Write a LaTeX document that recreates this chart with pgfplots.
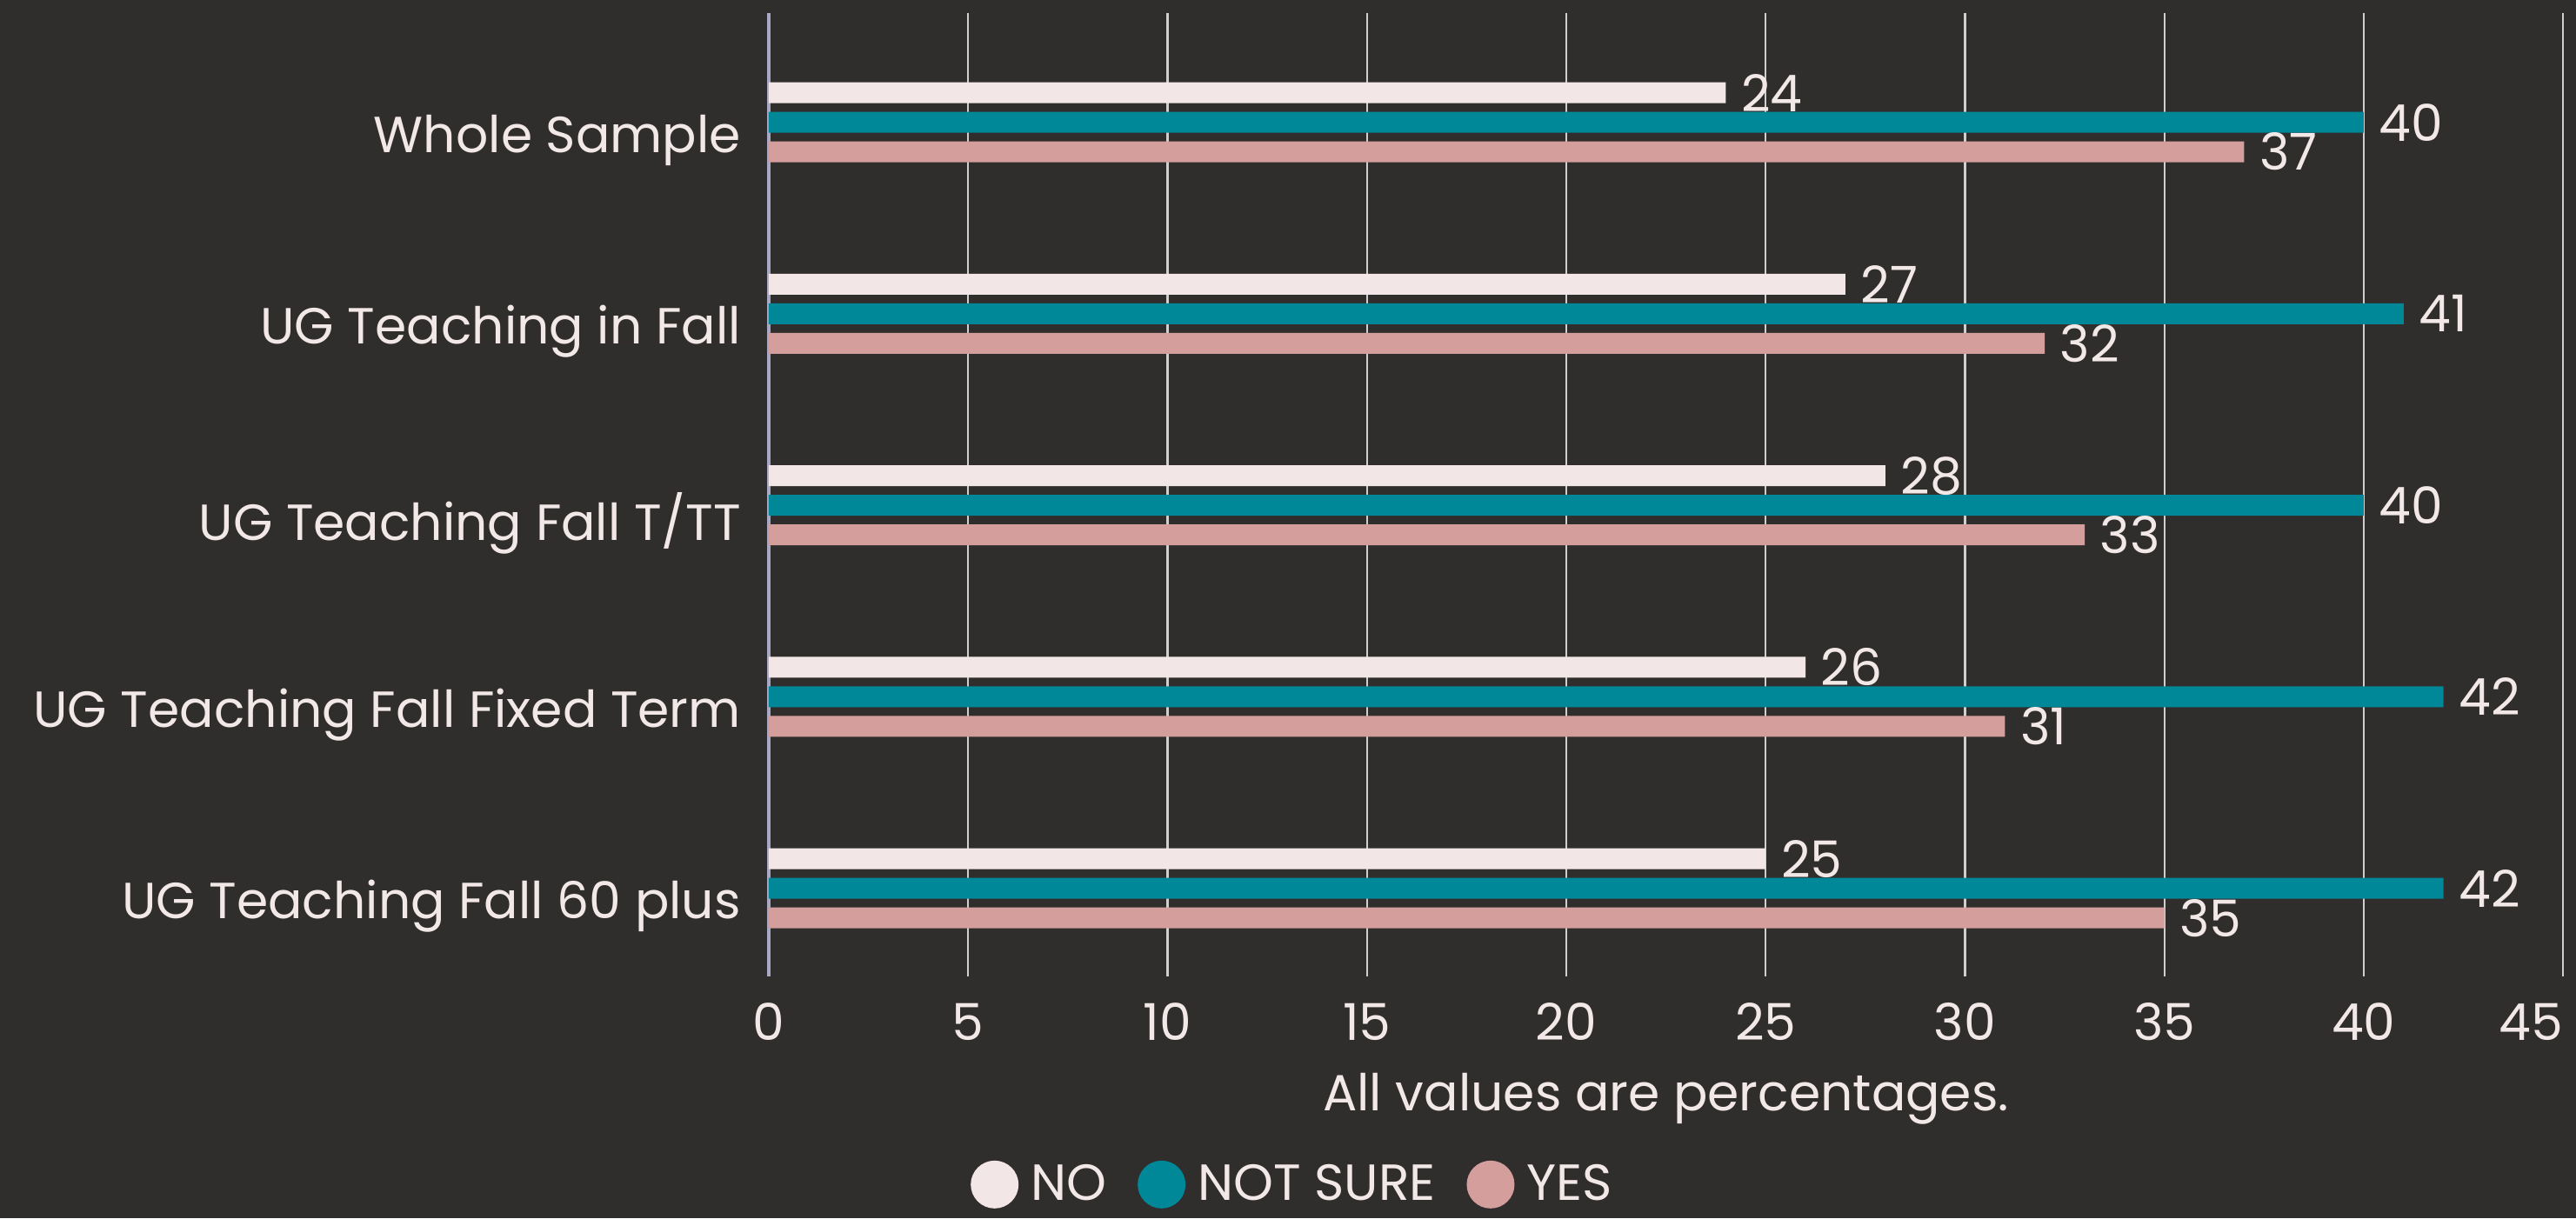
\documentclass[border=0pt]{standalone}
\usepackage{fontspec}
\setmainfont{Poppins}
\usepackage{pgfplots}
\pgfplotsset{compat=1.18}
\definecolor{bg}{HTML}{302E2C}
\definecolor{cno}{HTML}{F2E6E6}
\definecolor{cns}{HTML}{008798}
\definecolor{cyes}{HTML}{D49E9C}
\definecolor{txt}{HTML}{F2E8E8}
\definecolor{gridc}{HTML}{CFCFCF}
\definecolor{yaxc}{HTML}{A6A8C4}
\newcommand{\ff}{\fontsize{14.6}{17}\selectfont}
\begin{document}
\begin{tikzpicture}
\fill[bg] (-221pt,-69.5pt) rectangle (519.5pt,280.75pt);
\begin{axis}[
  scale only axis,
  width=515.8pt, height=277pt,
  xmin=0, xmax=45,
  ymin=-0.57, ymax=4.46,
  y dir=reverse,
  xbar=2.5pt, bar width=6pt,
  axis x line*=bottom,
  x axis line style={draw=none},
  axis y line*=left,
  y axis line style={yaxc, line width=0.8pt, -},
  xmajorgrids,
  grid style={gridc, line width=0.6pt},
  major tick length=0pt,
  xtick={0,5,10,15,20,25,30,35,40,45},
  xticklabels={0,5,10,15,20,25,30,35,40,{\makebox[0pt][r]{45}}},
  ytick={0,1,2,3,4},
  yticklabels={Whole Sample,UG Teaching in Fall,UG Teaching Fall T/TT,UG Teaching Fall Fixed Term,UG Teaching Fall 60 plus},
  /pgf/number format/assume math mode=true,
  tick label style={font=\ff, text=txt},
  xticklabel style={yshift=-4.2pt},
  yticklabel style={xshift=-4.5pt, yshift=-5.2pt},
  xlabel={All values are percentages.},
  xlabel style={at={(axis description cs:0.5,0)}, anchor=north, yshift=-27.5pt, inner sep=0pt, font=\ff, text=txt},
  nodes near coords,
  nodes near coords style={anchor=west, inner sep=0pt, xshift=4.25pt, font=\ff, text=txt},
  legend columns=3,
  legend style={at={(axis description cs:0.2913,-0.2160)}, anchor=center, draw=none, fill=none, font=\ff, text=txt,
    /tikz/every even column/.append style={column sep=9pt},
    nodes={inner sep=0pt}, column sep=3.5pt},
  clip=false,
]
\addplot[fill=cno, draw=none, bar shift=8.5pt, legend image code/.code={\fill[cno] (6.875pt,0.2pt) circle (6.875pt);}] coordinates {(24,0) (27,1) (28,2) (26,3) (25,4)};
\addplot[fill=cns, draw=none, bar shift=0pt, legend image code/.code={\fill[cns] (6.875pt,0.2pt) circle (6.875pt);}] coordinates {(40,0) (41,1) (40,2) (42,3) (42,4)};
\addplot[fill=cyes, draw=none, bar shift=-8.5pt, legend image code/.code={\fill[cyes] (6.875pt,0.2pt) circle (6.875pt);}] coordinates {(37,0) (32,1) (33,2) (31,3) (35,4)};
\legend{NO,NOT SURE,YES}
\end{axis}
\pgfresetboundingbox
\useasboundingbox (-221pt,-69.5pt) rectangle (519.5pt,280.75pt);
\end{tikzpicture}
\end{document}
